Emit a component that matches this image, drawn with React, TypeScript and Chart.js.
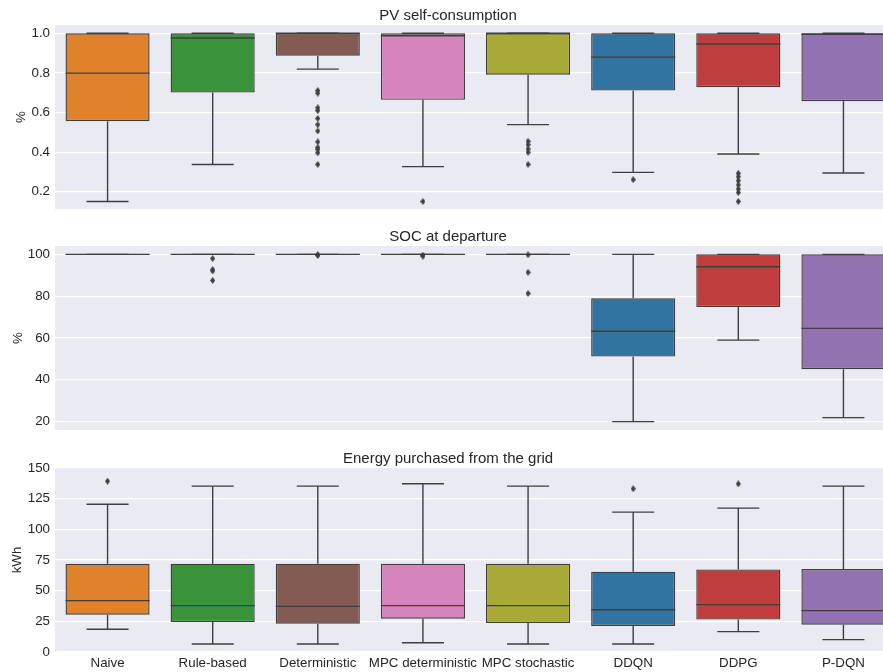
import React, { useEffect, useRef } from 'react';
import { Chart, registerables } from 'chart.js';

Chart.register(...registerables);

const categories = ['Naive', 'Rule-based', 'Deterministic', 'MPC deterministic', 'MPC stochastic', 'DDQN', 'DDPG', 'P-DQN'];
const boxColors = ['#E1812C', '#3A923A', '#845B53', '#D684BD', '#A9AA35', '#3274A1', '#C03D3E', '#9372B2'];

// PV self-consumption
const pvLow = [0.151, 0.338, 0.819, 0.327, 0.539, 0.298, 0.391, 0.295];
const pvQ1 = [0.556, 0.701, 0.887, 0.664, 0.791, 0.711, 0.728, 0.657];
const pvMedian = [0.799, 0.976, 1.0, 0.988, 1.0, 0.88, 0.946, 0.995];
const pvQ3 = [1.0, 1.0, 1.0, 1.0, 1.0, 1.0, 1.0, 1.0];
const pvHigh = [1.0, 1.0, 1.0, 1.0, 1.0, 1.0, 1.0, 1.0];
const pvOutliers = [
  [],
  [],
  [0.711, 0.698, 0.624, 0.61, 0.57, 0.539, 0.507, 0.452, 0.424, 0.414, 0.397, 0.338],
  [0.151],
  [0.455, 0.438, 0.416, 0.399, 0.338],
  [0.261],
  [0.293, 0.276, 0.256, 0.235, 0.214, 0.196, 0.151],
  [],
];
const pvTicks = [0.2, 0.4, 0.6, 0.8, 1.0];

// SOC at departure
const socLow = [100, 100, 100, 100, 100, 20.0, 59.0, 21.9];
const socQ1 = [100, 100, 100, 100, 100, 51.1, 74.8, 45.1];
const socMedian = [100, 100, 100, 100, 100, 63.2, 94.1, 64.6];
const socQ3 = [100, 100, 100, 100, 100, 79.0, 100, 100];
const socHigh = [100, 100, 100, 100, 100, 100, 100, 100];
const socOutliers = [
  [],
  [98.0, 92.7, 92.1, 87.5],
  [99.8, 99.5],
  [99.6, 99.2],
  [99.8, 91.4, 81.3],
  [],
  [],
  [],
];
const socTicks = [20, 40, 60, 80, 100];

// Energy purchased from the grid
const enLow = [18.5, 6.5, 6.5, 7.6, 6.5, 6.5, 16.6, 10.1];
const enQ1 = [30.4, 24.4, 23.1, 27.2, 23.6, 21.2, 26.4, 22.3];
const enMedian = [41.9, 37.8, 37.2, 37.8, 37.8, 34.5, 38.6, 33.7];
const enQ3 = [72.0, 72.0, 72.0, 72.0, 72.0, 65.5, 67.3, 67.6];
const enHigh = [120.5, 135.2, 135.2, 137.1, 135.2, 114.0, 117.3, 135.2];
const enOutliers = [[139.3], [], [], [], [], [133.1], [137.1], []];
const enTicks = [0, 25, 50, 75, 100, 125, 150];

const FONT = "'Liberation Sans', Arial, sans-serif";
const TEXT = '#262626';
const LINE = '#3f3f3f';
const BG = '#EAEAF2';

function makeDiamond(): HTMLCanvasElement {
  const c = document.createElement('canvas');
  c.width = 5;
  c.height = 7;
  const g = c.getContext('2d')!;
  g.fillStyle = LINE;
  g.beginPath();
  g.moveTo(2.5, 0);
  g.lineTo(5, 3.5);
  g.lineTo(2.5, 7);
  g.lineTo(0, 3.5);
  g.closePath();
  g.fill();
  return c;
}

interface PanelCfg {
  title: string;
  yTitle: string;
  yTitlePad: number;
  min: number;
  max: number;
  ticks: number[];
  decimals: number;
  showX: boolean;
  low: number[];
  q1: number[];
  median: number[];
  q3: number[];
  high: number[];
  outliers: number[][];
}

function makeBoxPlugin(cfg: PanelCfg) {
  return {
    id: 'boxExtras',
    beforeDraw(chart: any) {
      const { ctx, chartArea } = chart;
      ctx.save();
      ctx.fillStyle = BG;
      ctx.fillRect(chartArea.left, chartArea.top, chartArea.right - chartArea.left, chartArea.bottom - chartArea.top);
      ctx.restore();
    },
    afterDatasetsDraw(chart: any) {
      const { ctx } = chart;
      const x = chart.scales.x;
      const y = chart.scales.y;
      const meta = chart.getDatasetMeta(0);
      ctx.save();
      ctx.strokeStyle = LINE;
      ctx.lineWidth = 1.4;
      categories.forEach((_, i) => {
        const el: any = meta.data[i];
        const w = el.width;
        const cx = x.getPixelForValue(i);
        const yLo = y.getPixelForValue(cfg.low[i]);
        const yQ1 = y.getPixelForValue(cfg.q1[i]);
        const yMed = y.getPixelForValue(cfg.median[i]);
        const yQ3 = y.getPixelForValue(cfg.q3[i]);
        const yHi = y.getPixelForValue(cfg.high[i]);
        ctx.beginPath();
        ctx.moveTo(cx, yQ1);
        ctx.lineTo(cx, yLo);
        ctx.moveTo(cx, yQ3);
        ctx.lineTo(cx, yHi);
        ctx.moveTo(cx - w / 4, yLo);
        ctx.lineTo(cx + w / 4, yLo);
        ctx.moveTo(cx - w / 4, yHi);
        ctx.lineTo(cx + w / 4, yHi);
        ctx.stroke();
        ctx.beginPath();
        ctx.moveTo(cx - w / 2, yMed);
        ctx.lineTo(cx + w / 2, yMed);
        ctx.stroke();
      });
      ctx.restore();
    },
  };
}

function buildChart(canvas: HTMLCanvasElement, cfg: PanelCfg, diamond: HTMLCanvasElement) {
  const boxData = categories.map((_, i) => [cfg.q1[i], cfg.q3[i]]);
  const outlierData: { x: string; y: number }[] = [];
  cfg.outliers.forEach((arr, i) => arr.forEach((v) => outlierData.push({ x: categories[i], y: v })));
  const tickFont = { family: FONT, size: 13.33 };
  return new Chart(canvas, {
    type: 'bar',
    data: {
      labels: categories,
      datasets: [
        {
          type: 'bar',
          data: boxData as any,
          backgroundColor: boxColors,
          borderColor: LINE,
          borderWidth: 1.4,
          borderSkipped: false,
          barPercentage: 0.8,
          categoryPercentage: 1.0,
        } as any,
        {
          type: 'scatter',
          data: outlierData as any,
          pointStyle: diamond,
          pointRadius: 3,
          showLine: false,
        } as any,
      ],
    },
    options: {
      animation: false,
      responsive: false,
      events: [],
      layout: { autoPadding: false, padding: { left: 0, right: 0, top: 0, bottom: cfg.showX ? 2 : 0 } },
      plugins: {
        legend: { display: false },
        tooltip: { enabled: false },
        title: {
          display: true,
          text: cfg.title,
          color: TEXT,
          font: { family: FONT, size: 15, weight: 'normal' },
          padding: { top: 7, bottom: 0 },
        },
      },
      scales: {
        x: {
          type: 'category',
          display: cfg.showX,
          offset: true,
          grid: { display: false, drawTicks: false },
          border: { display: false },
          ticks: {
            color: TEXT,
            font: tickFont,
            padding: 3,
            maxRotation: 0,
            minRotation: 0,
            autoSkip: false,
          },
        },
        y: {
          type: 'linear',
          min: cfg.min,
          max: cfg.max,
          afterBuildTicks: (s: any) => {
            s.ticks = cfg.ticks.map((v) => ({ value: v }));
          },
          afterFit: (s: any) => {
            s.width = 55;
            s.paddingTop = 0;
            s.paddingBottom = 0;
          },
          grid: { color: '#ffffff', lineWidth: 1.3, drawTicks: false },
          border: { display: false },
          ticks: {
            color: TEXT,
            font: tickFont,
            padding: 5,
            callback: (v: any) => Number(v).toFixed(cfg.decimals),
          },
          title: {
            display: true,
            text: cfg.yTitle,
            color: TEXT,
            font: tickFont,
            padding: { top: cfg.yTitlePad, bottom: 0 },
          },
        },
      },
    } as any,
    plugins: [makeBoxPlugin(cfg)],
  });
}

const panels: PanelCfg[] = [
  {
    title: 'PV self-consumption', yTitle: '%', yTitlePad: 13, min: 0.113, max: 1.042, ticks: pvTicks, decimals: 1, showX: false,
    low: pvLow, q1: pvQ1, median: pvMedian, q3: pvQ3, high: pvHigh, outliers: pvOutliers,
  },
  {
    title: 'SOC at departure', yTitle: '%', yTitlePad: 10, min: 16, max: 104, ticks: socTicks, decimals: 0, showX: false,
    low: socLow, q1: socQ1, median: socMedian, q3: socQ3, high: socHigh, outliers: socOutliers,
  },
  {
    title: 'Energy purchased from the grid', yTitle: 'kWh', yTitlePad: 9, min: 0, max: 150, ticks: enTicks, decimals: 0, showX: true,
    low: enLow, q1: enQ1, median: enMedian, q3: enQ3, high: enHigh, outliers: enOutliers,
  },
];

const canvasTops = [0, 221, 443];
const canvasHeights = [209, 209, 233];
const CANVAS_W = 896;

export default function App() {
  const r1 = useRef<HTMLCanvasElement>(null);
  const r2 = useRef<HTMLCanvasElement>(null);
  const r3 = useRef<HTMLCanvasElement>(null);

  useEffect(() => {
    const diamond = makeDiamond();
    const refs = [r1, r2, r3];
    const charts = refs.map((r, i) => buildChart(r.current!, panels[i], diamond));
    return () => charts.forEach((c) => c.destroy());
  }, []);

  const refs = [r1, r2, r3];
  return (
    <div style={{ position: 'absolute', left: 0, top: 0, width: 883, height: 672, overflow: 'hidden', background: '#ffffff' }}>
      {refs.map((r, i) => (
        <canvas
          key={i}
          ref={r}
          width={CANVAS_W}
          height={canvasHeights[i]}
          style={{ position: 'absolute', left: 0, top: canvasTops[i], width: CANVAS_W, height: canvasHeights[i] }}
        />
      ))}
    </div>
  );
}
